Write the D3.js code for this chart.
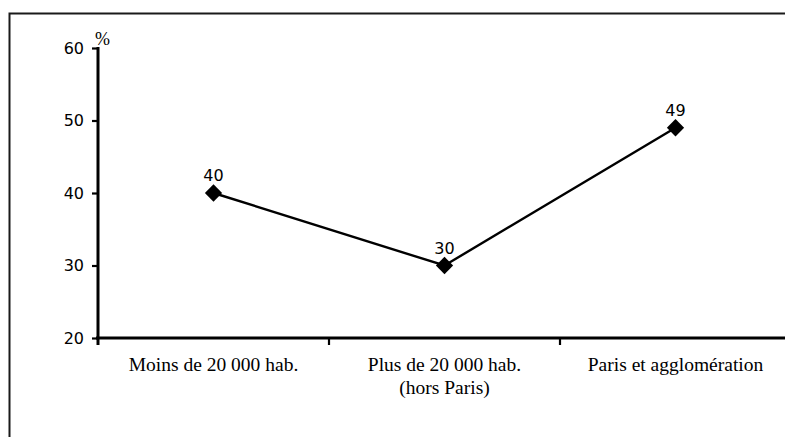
<!DOCTYPE html>
<html>
<head>
<meta charset="utf-8">
<script src="https://cdn.jsdelivr.net/npm/d3@7"></script>
<style>
  body { margin: 0; background: #fff; }
  svg { display: block; }
</style>
</head>
<body>
<svg width="785" height="437"></svg>
<script>
// data
var categories = ["Moins de 20 000 hab.", "Plus de 20 000 hab.|(hors Paris)", "Paris et agglomération"];
var values = [40, 30, 49];
var yTicks = [20, 30, 40, 50, 60];

var svg = d3.select("svg");
var width = +svg.attr("width");
var height = +svg.attr("height");

// outer frame (runs off the right and bottom edges)
svg.append("rect")
  .attr("x", 9.5)
  .attr("y", 13.5)
  .attr("width", 900)
  .attr("height", 600)
  .attr("fill", "none")
  .attr("stroke", "#1a1a1a")
  .attr("stroke-width", 2);

var x = d3.scaleBand()
  .domain(categories)
  .range([98, 791]);

var y = d3.scaleLinear()
  .domain([20, 60])
  .range([338, 48]);

// y axis
var yAxis = svg.append("g")
  .attr("transform", "translate(98,0)")
  .call(d3.axisLeft(y).tickValues(yTicks).tickSize(6).tickPadding(8));
yAxis.select(".domain").remove();
yAxis.selectAll(".tick line").attr("stroke", "#000").attr("stroke-width", 2.2);
yAxis.selectAll(".tick text")
  .attr("fill", "#000")
  .style("font-family", "'DejaVu Sans', sans-serif")
  .style("font-size", "16px");

svg.append("line")
  .attr("x1", 98).attr("x2", 98)
  .attr("y1", y(60) - 1).attr("y2", y(20) + 1)
  .attr("stroke", "#000")
  .attr("stroke-width", 3);

svg.append("text")
  .attr("x", 95)
  .attr("y", 45)
  .attr("fill", "#000")
  .style("font-family", "'Liberation Serif', serif")
  .style("font-size", "18px")
  .text("%");

// x axis
svg.append("line")
  .attr("x1", 96).attr("x2", 791)
  .attr("y1", y(20)).attr("y2", y(20))
  .attr("stroke", "#000")
  .attr("stroke-width", 3);

svg.selectAll(".xtick")
  .data(categories.slice(1))
  .enter().append("line")
  .attr("class", "xtick")
  .attr("x1", function (d) { return x(d); })
  .attr("x2", function (d) { return x(d); })
  .attr("y1", y(20))
  .attr("y2", y(20) + 7)
  .attr("stroke", "#000")
  .attr("stroke-width", 2.2);

// bottom tick at the origin
svg.append("line")
  .attr("x1", 98).attr("x2", 98)
  .attr("y1", y(20)).attr("y2", y(20) + 7)
  .attr("stroke", "#000")
  .attr("stroke-width", 3);

var catLabels = svg.selectAll(".cat")
  .data(categories)
  .enter().append("text")
  .attr("class", "cat")
  .attr("x", function (d) { return x(d) + x.bandwidth() / 2; })
  .attr("y", 371)
  .attr("text-anchor", "middle")
  .attr("fill", "#000")
  .style("font-family", "'Liberation Serif', serif")
  .style("font-size", "19.5px");

catLabels.each(function (d) {
  var parts = d.split("|");
  var t = d3.select(this);
  parts.forEach(function (p, i) {
    t.append("tspan")
      .attr("x", x(d) + x.bandwidth() / 2)
      .attr("dy", i === 0 ? 0 : 23)
      .text(p);
  });
});

// line + markers
var pts = categories.map(function (c, i) {
  return { cat: c, value: values[i] };
});

var line = d3.line()
  .x(function (d) { return x(d.cat) + x.bandwidth() / 2; })
  .y(function (d) { return y(d.value); });

svg.append("path")
  .datum(pts)
  .attr("d", line)
  .attr("fill", "none")
  .attr("stroke", "#000")
  .attr("stroke-width", 2.4);

svg.selectAll(".pt")
  .data(pts)
  .enter().append("path")
  .attr("class", "pt")
  .attr("transform", function (d) {
    return "translate(" + (x(d.cat) + x.bandwidth() / 2) + "," + y(d.value) + ")";
  })
  .attr("d", d3.symbol().type(d3.symbolDiamond2).size(190))
  .attr("fill", "#000");

svg.selectAll(".val")
  .data(pts)
  .enter().append("text")
  .attr("class", "val")
  .attr("x", function (d) { return x(d.cat) + x.bandwidth() / 2; })
  .attr("y", function (d) { return y(d.value) - 12; })
  .attr("text-anchor", "middle")
  .attr("fill", "#000")
  .style("font-family", "'DejaVu Sans', sans-serif")
  .style("font-size", "16px")
  .text(function (d) { return d.value; });
</script>
</body>
</html>
